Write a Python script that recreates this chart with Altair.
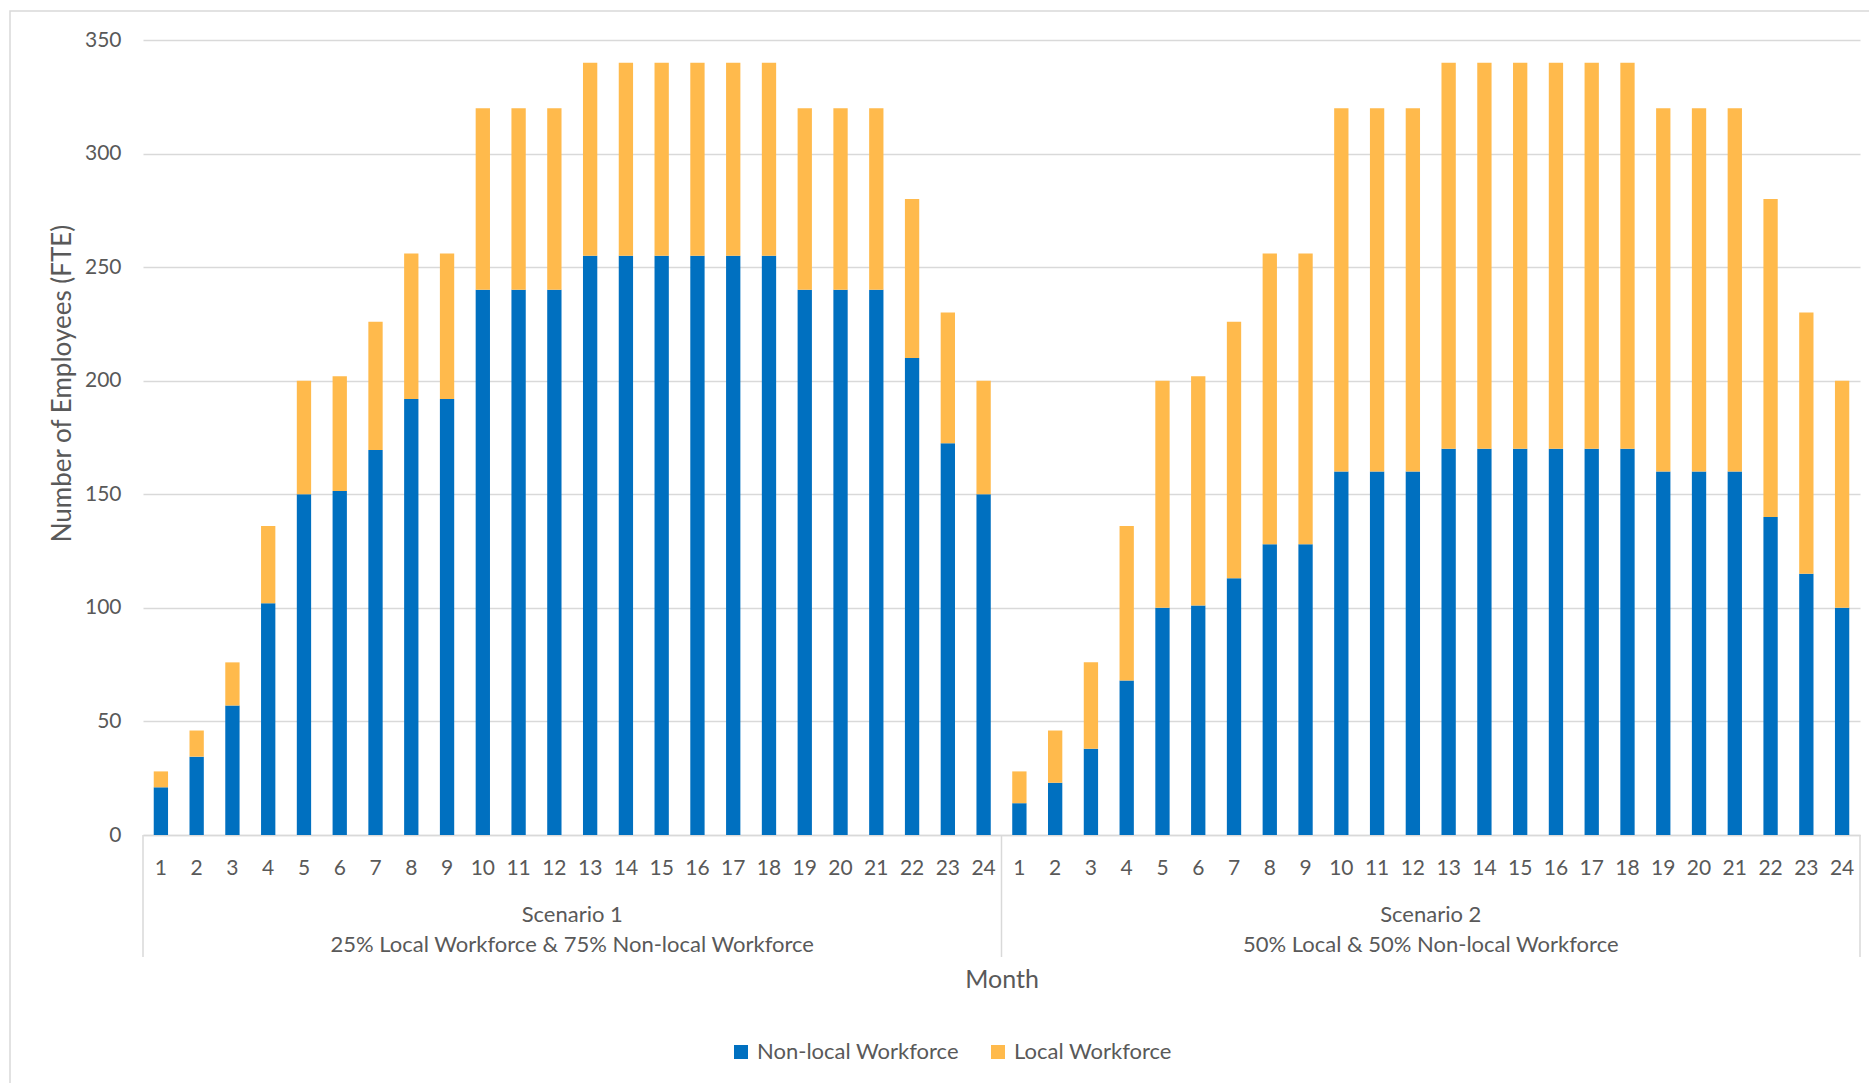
import altair as alt
import pandas as pd

# Monthly workforce (FTE) for the two staffing scenarios
MONTHS = list(range(1, 25))

S1_NONLOCAL = [21, 34.5, 57, 102, 150, 151.5, 169.5, 192, 192, 240, 240, 240,
               255, 255, 255, 255, 255, 255, 240, 240, 240, 210, 172.5, 150]
S1_LOCAL = [7, 11.5, 19, 34, 50, 50.5, 56.5, 64, 64, 80, 80, 80,
            85, 85, 85, 85, 85, 85, 80, 80, 80, 70, 57.5, 50]

S2_NONLOCAL = [14, 23, 38, 68, 100, 101, 113, 128, 128, 160, 160, 160,
               170, 170, 170, 170, 170, 170, 160, 160, 160, 140, 115, 100]
S2_LOCAL = [14, 23, 38, 68, 100, 101, 113, 128, 128, 160, 160, 160,
            170, 170, 170, 170, 170, 170, 160, 160, 160, 140, 115, 100]

SCENARIOS = ["Scenario 1", "Scenario 2"]
SCENARIO_NOTES = ["25% Local Workforce & 75% Non-local Workforce",
                  "50% Local & 50% Non-local Workforce"]
SERIES = ["Non-local Workforce", "Local Workforce"]
COLORS = ["#0070C0", "#FFBA4C"]

FONT = "Lato"
TEXT = "#595959"
GRID = "#D9D9D9"

W, H = 1717, 795
N = len(MONTHS)

rows = []
for s_idx, (nonlocal_vals, local_vals) in enumerate([(S1_NONLOCAL, S1_LOCAL),
                                                      (S2_NONLOCAL, S2_LOCAL)]):
    for m_idx, month in enumerate(MONTHS):
        slot = s_idx * N + m_idx
        rows.append({"slot": slot, "month": month, "series": SERIES[0],
                     "order": 0, "value": nonlocal_vals[m_idx]})
        rows.append({"slot": slot, "month": month, "series": SERIES[1],
                     "order": 1, "value": local_vals[m_idx]})
bars_df = pd.DataFrame(rows)

bars = alt.Chart(bars_df).mark_bar().encode(
    x=alt.X("slot:O",
            scale=alt.Scale(paddingInner=0.6, paddingOuter=0.3),
            axis=alt.Axis(title="Month", labelExpr="(datum.value % 24) + 1",
                          labelAngle=0, labelFont=FONT, labelFontSize=21,
                          labelColor=TEXT, labelPadding=22, ticks=False,
                          domainColor=GRID, domainWidth=1.5,
                          titleFont=FONT, titleFontSize=25, titleFontWeight="normal",
                          titleColor=TEXT, titleY=144, titleBaseline="middle")),
    y=alt.Y("sum(value):Q", stack="zero",
            scale=alt.Scale(domain=[0, 350], nice=False),
            axis=alt.Axis(title="Number of Employees (FTE)",
                          values=[0, 50, 100, 150, 200, 250, 300, 350],
                          labelFont=FONT, labelFontSize=21, labelColor=TEXT,
                          labelPadding=22, ticks=False, domain=False,
                          gridColor=GRID, gridWidth=1.5,
                          titleFont=FONT, titleFontSize=26,
                          titleFontWeight="normal", titleColor=TEXT,
                          titleX=-81, titleY=343, titleAlign="center",
                          titleBaseline="middle", titleAngle=270)),
    color=alt.Color("series:N",
                    scale=alt.Scale(domain=SERIES, range=COLORS),
                    legend=alt.Legend(title=None, orient="none", direction="horizontal",
                                      legendX=587, legendY=1001,
                                      symbolType="square", symbolSize=196,
                                      symbolStrokeWidth=0,
                                      labelFont=FONT, labelFontSize=22,
                                      labelColor=TEXT, labelOffset=5,
                                      labelLimit=0, columnPadding=28)),
    order=alt.Order("order:Q"),
)

# Group separators under the category axis
bounds_df = pd.DataFrame({"pos": [0, N, 2 * N]})
pos_scale = alt.Scale(domain=[0, 2 * N], nice=False, zero=False)

dividers = alt.Chart(bounds_df).mark_rule(color=GRID, strokeWidth=1.5).encode(
    x=alt.X("pos:Q", scale=pos_scale, axis=None),
    y=alt.value(H),
    y2=alt.value(H + 122),
)

groups_df = pd.DataFrame({"center": [N / 2, N + N / 2],
                          "name": SCENARIOS, "note": SCENARIO_NOTES})

group_names = alt.Chart(groups_df).mark_text(
    font=FONT, fontSize=22, color=TEXT, baseline="middle", align="center"
).encode(
    x=alt.X("center:Q", scale=pos_scale, axis=None),
    y=alt.value(H + 80),
    text="name:N",
)

group_notes = alt.Chart(groups_df).mark_text(
    font=FONT, fontSize=22, color=TEXT, baseline="middle", align="center"
).encode(
    x=alt.X("center:Q", scale=pos_scale, axis=None),
    y=alt.value(H + 110),
    text="note:N",
)

# Light frame around the whole chart
frame = alt.Chart(pd.DataFrame({"k": [0]})).mark_rect(
    fill="transparent", stroke=GRID, strokeWidth=1.5
).encode(
    x=alt.value(-133), x2=alt.value(W + 40),
    y=alt.value(-29), y2=alt.value(H + 300),
)

chart = alt.layer(frame, bars, dividers, group_names, group_notes).resolve_scale(
    x="independent"
).properties(
    width=W, height=H,
    autosize=alt.AutoSizeParams(type="none"),
    padding={"left": 143, "top": 40, "right": 9, "bottom": 248},
    background="white",
).configure_view(strokeWidth=0)

chart.save("out.html", embed_options={"renderer": "svg", "actions": False})
